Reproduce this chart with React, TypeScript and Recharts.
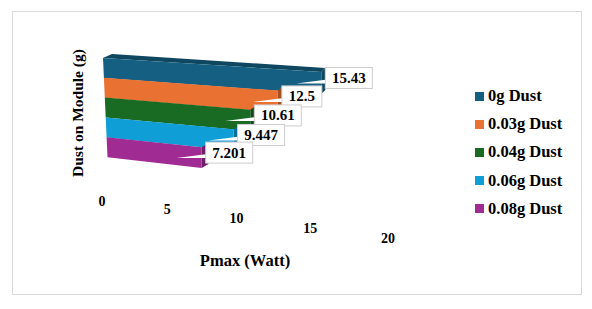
import { BarChart, Bar, XAxis, YAxis, Cell, Legend, LabelList } from "recharts";

const categories = ["0g Dust", "0.03g Dust", "0.04g Dust", "0.06g Dust", "0.08g Dust"];
const pmaxValues = [15.43, 12.5, 10.61, 9.447, 7.201];
const xTicks = [0, 5, 10, 15, 20];

const COLORS = ["#156082", "#E97132", "#196B24", "#0F9ED5", "#A02B93"];
const SIDE_COLORS = ["#0F4761", "#A64F1E", "#114A19", "#0A6F96", "#711E68"];

const data = categories.map((name, i) => ({ name, pmax: pmaxValues[i] }));

const WIDTH = 592;
const HEIGHT = 309;
const LEFT = 103;
const TOP = 58;
const PLOT_W = 266;
const PLOT_H = 99;
const LEGEND_W = 110;
const PX_PER_UNIT = PLOT_W / 20;
const SERIF = '"Liberation Serif", "Times New Roman", serif';

// the chart is a flat bar chart, this bends the flat plot coords into the fake 3D view
const project = (px: number, py: number) => {
  const raw = px - LEFT;
  const val = raw / PX_PER_UNIT;
  const v = (py - TOP) / PLOT_H;
  const dx = raw + 0.055 * val * val;
  const topEdge = TOP + 0.064 * dx;
  const bottomEdge = TOP + PLOT_H + 0.11 * dx;
  const lean = 4.5 * v * Math.max(0, 1 - dx / 100);
  return { x: LEFT + lean + dx, y: topEdge + (bottomEdge - topEdge) * v, dx };
};

const depth = (dx: number) => ({ x: 9 - (5 * dx) / 220, y: -4 });

const pts = (list: { x: number; y: number }[]) => list.map((p) => `${p.x},${p.y}`).join(" ");
const shift = (p: { x: number; y: number }, d: { x: number; y: number }) => ({ x: p.x + d.x, y: p.y + d.y });

const Bar3D = ({ x, y, width, height, index }: any) => {
  const tl = project(x, y);
  const tr = project(x + width, y);
  const br = project(x + width, y + height);
  const bl = project(x, y + height);
  const dl = depth(tl.dx);
  const dr = depth(tr.dx);
  return (
    <g>
      {index === 0 && <polygon points={pts([tl, shift(tl, dl), shift(tr, dr), tr])} fill={SIDE_COLORS[index]} />}
      <polygon points={pts([tr, shift(tr, dr), shift(br, dr), br])} fill={SIDE_COLORS[index]} />
      <polygon points={pts([tl, tr, br, bl])} fill={COLORS[index]} />
    </g>
  );
};

const Callout = ({ x, y, width, height, value }: any) => {
  const end = project(x + width, y + height / 2);
  const text = String(value);
  const boxW = text.length >= 5 ? 47 : 40;
  const boxH = 21;
  const boxX = end.x + 4;
  const boxY = end.y - boxH / 2 - 5;
  const boxBottom = boxY + boxH;
  return (
    <g>
      <polygon
        points={`${boxX - 29},${boxBottom - 5} ${boxX + 2},${boxBottom - 9} ${boxX + 2},${boxBottom - 5}`}
        fill="#fff"
      />
      <rect x={boxX} y={boxY} width={boxW} height={boxH} fill="#fff" stroke="#CDCDCD" strokeWidth={1} />
      <text
        x={boxX + boxW / 2}
        y={boxY + boxH / 2 + 5}
        textAnchor="middle"
        fontFamily={SERIF}
        fontWeight={700}
        fontSize={15}
        fill="#000"
      >
        {text}
      </text>
    </g>
  );
};

const SkewTick = ({ x, payload }: any) => {
  const raw = x - LEFT;
  const val = raw / PX_PER_UNIT;
  const dx = 12.6 * val + 0.085 * val * val;
  return (
    <text
      x={102 + dx}
      y={206 + 0.128 * dx}
      textAnchor="middle"
      fontFamily={SERIF}
      fontWeight={700}
      fontSize={14}
      fill="#000"
    >
      {payload.value}
    </text>
  );
};

const LegendBox = () => (
  <div style={{ fontFamily: SERIF, fontWeight: 700, fontSize: 16.5, color: "#000" }}>
    {categories.map((name, i) => (
      <div key={name} style={{ display: "flex", alignItems: "center", height: 28.2, whiteSpace: "nowrap" }}>
        <span style={{ width: 9, height: 9, background: COLORS[i], marginRight: 4, flexShrink: 0 }} />
        {name}
      </div>
    ))}
  </div>
);

export default function App() {
  return (
    <div style={{ position: "absolute", left: 0, top: 0, width: WIDTH, height: HEIGHT, background: "#fff" }}>
      <div
        style={{
          position: "absolute",
          left: 12,
          top: 11,
          width: 568,
          height: 282,
          border: "1px solid #D9D9D9",
        }}
      />
      <div style={{ position: "absolute", left: 0, top: 0 }}>
        <BarChart
          width={WIDTH}
          height={HEIGHT}
          data={data}
          layout="vertical"
          barCategoryGap={0}
          margin={{ top: TOP, left: LEFT - 1, right: WIDTH - LEFT - PLOT_W - LEGEND_W, bottom: HEIGHT - TOP - PLOT_H - 1 }}
        >
          <XAxis
            type="number"
            domain={[0, 20]}
            ticks={xTicks}
            height={1}
            axisLine={false}
            tickLine={false}
            interval={0}
            tick={<SkewTick />}
            label={{
              value: "Pmax (Watt)",
              content: () => (
                <text x={245} y={266} textAnchor="middle" fontFamily={SERIF} fontWeight={700} fontSize={16.5} fill="#000">
                  Pmax (Watt)
                </text>
              ),
            }}
          />
          <YAxis
            type="category"
            dataKey="name"
            width={1}
            axisLine={false}
            tickLine={false}
            tick={false}
            label={{
              value: "Dust on Module (g)",
              content: () => (
                <text
                  x={83}
                  y={113}
                  transform="rotate(-90 83 113)"
                  textAnchor="middle"
                  fontFamily={SERIF}
                  fontWeight={700}
                  fontSize={15.5}
                  fill="#000"
                >
                  Dust on Module (g)
                </text>
              ),
            }}
          />
          <Legend
            layout="vertical"
            align="right"
            verticalAlign="middle"
            content={<LegendBox />}
            wrapperStyle={{ position: "absolute", left: 475, top: 82, width: LEGEND_W, height: 142 }}
          />
          <Bar dataKey="pmax" isAnimationActive={false} shape={<Bar3D />}>
            {data.map((d, i) => (
              <Cell key={d.name} fill={COLORS[i]} />
            ))}
            <LabelList dataKey="pmax" content={<Callout />} />
          </Bar>
        </BarChart>
      </div>
    </div>
  );
}
